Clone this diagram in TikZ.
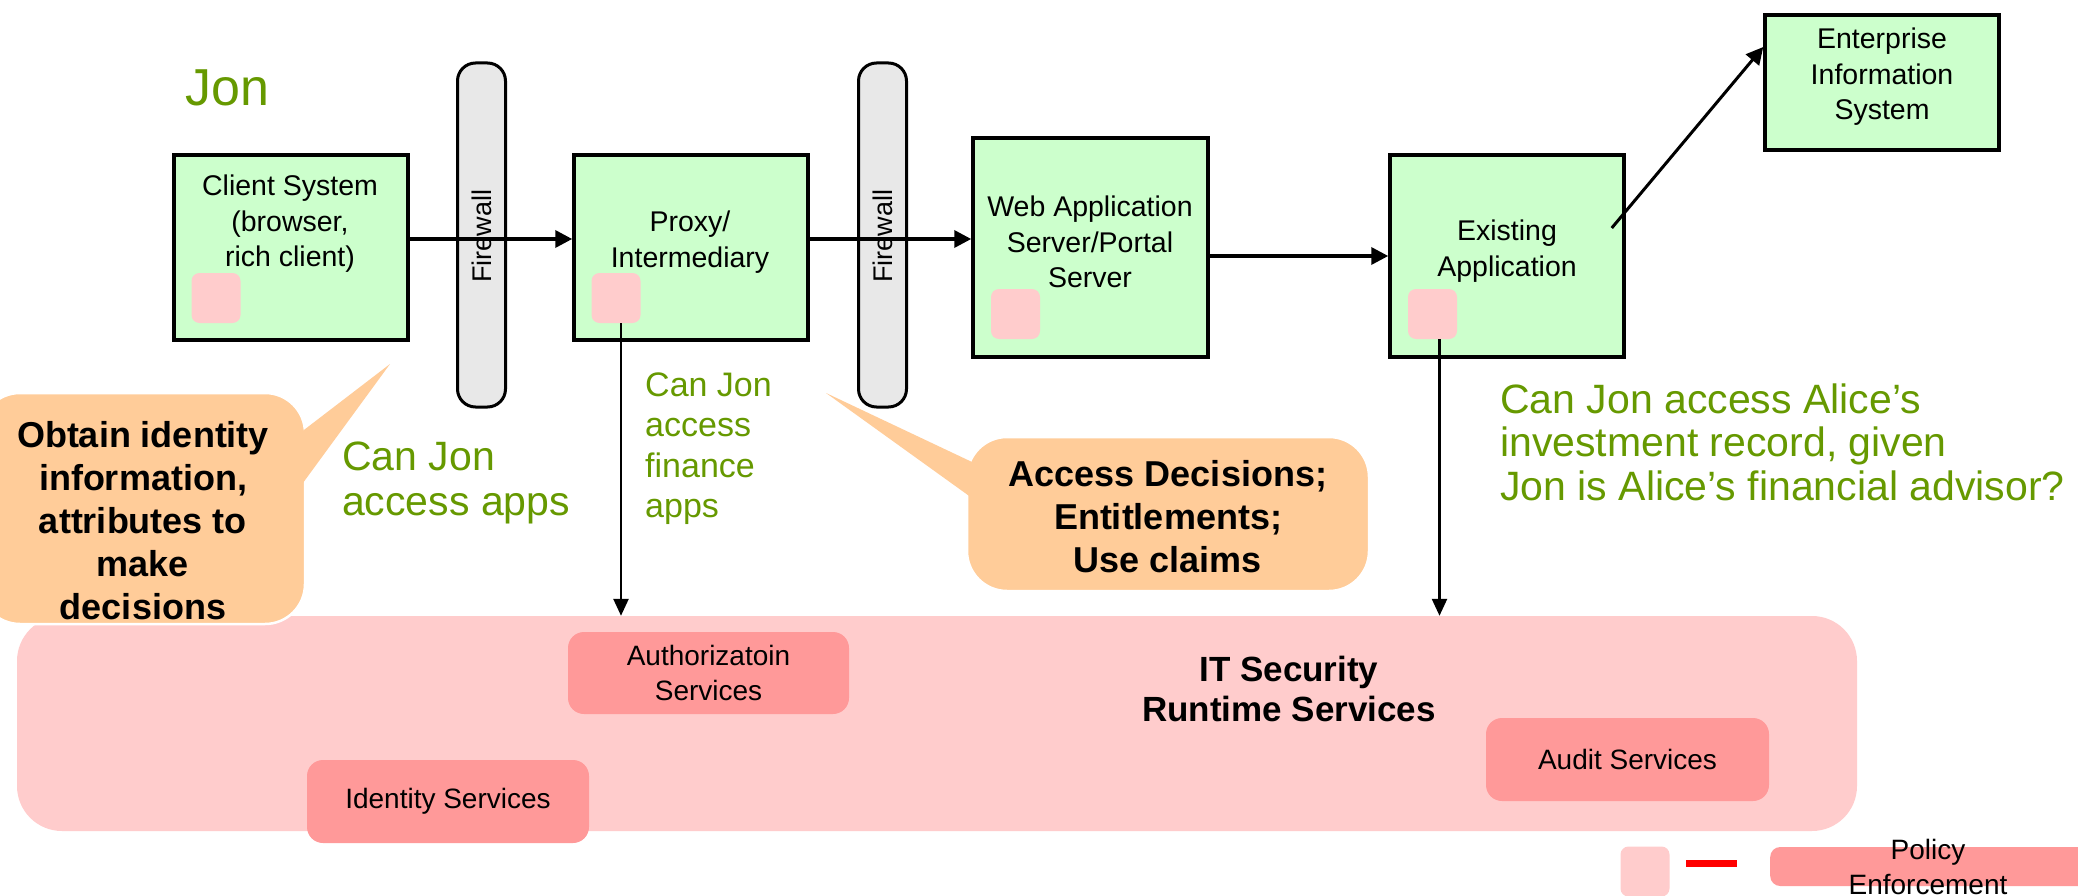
\documentclass[tikz,border=0pt]{standalone}
\usepackage{fontspec}
\setmainfont{Liberation Sans}
\usetikzlibrary{arrows.meta,calc}

\definecolor{boxgreen}{HTML}{CCFFCC}
\definecolor{pepink}{HTML}{FFCCCC}
\definecolor{svcpink}{HTML}{FF9999}
\definecolor{calloutfill}{HTML}{FFCC99}
\definecolor{qgreen}{HTML}{669900}
\definecolor{fwgray}{HTML}{E8E8E8}

\begin{document}
\begin{tikzpicture}[x=1pt,y=-1pt,
  box/.style={draw, line width=3.5pt, fill=boxgreen, inner sep=0pt},
  pe/.style={fill=pepink, rounded corners=8pt, minimum width=49, minimum height=50, inner sep=0pt},
  svc/.style={fill=svcpink, rounded corners=16pt, inner sep=0pt, align=center,
    font=\fontsize{28}{35}\selectfont},
  fw/.style={draw, line width=3pt, fill=fwgray, rounded corners=18pt,
    minimum width=48, minimum height=344, inner sep=0pt},
  fwtext/.style={rotate=90, font=\fontsize{27}{30}\selectfont, inner sep=0pt},
  lbl/.style={align=center, inner sep=0pt, font=\fontsize{28.5}{35.5}\selectfont},
  flow/.style={-{Triangle[length=17pt,width=17pt]}, line width=3.5pt},
  down/.style={-{Triangle[length=17pt,width=15pt]}, line width=2.5pt},
  question/.style={text=qgreen, align=left, inner sep=0pt, anchor=base west},
  callout/.style={fill=calloutfill, draw=white, line width=2.5pt, rounded corners=40pt, inner sep=0pt},
  ctext/.style={align=center, inner sep=0pt, font=\fontsize{36}{43}\selectfont\bfseries},
]
\useasboundingbox (0,0) rectangle (2078,896);
\fill[white] (0,0) rectangle (2078,896);
\clip (0,0) rectangle (2078,896);

% runtime services region
\node[fill=pepink, rounded corners=45pt, minimum width=1840, minimum height=215, inner sep=0pt]
  (rts) at (937,723.5) {};
\node[ctext, font=\fontsize{35}{40}\selectfont\bfseries] (rts-t) at (1289,689)
  {IT Security\\Runtime Services};
\node[svc, minimum width=281, minimum height=82] (auth) at (708.5,673) {Authorizatoin\\Services};
\node[svc, minimum width=282, minimum height=83] (ident) at (448,801.5) {Identity Services};
\node[svc, minimum width=283, minimum height=83] (audit) at (1627.5,759.5) {Audit Services};

% callouts
\node[callout, minimum width=325, minimum height=231] (co1) at (142.5,508.5) {};
\coordinate (co1-tip) at (390,364);
\coordinate (co1-b1) at (300,433);
\coordinate (co1-b2) at (300,487);
\fill[calloutfill] (co1-tip) -- (co1-b1) -- (co1-b2) -- cycle;
\node[ctext] (co1-t) at (143,521)
  {Obtain identity\\information,\\attributes to\\make\\decisions};

\node[callout, minimum width=402, minimum height=154] (co2) at (1168,514) {};
\coordinate (co2-tip) at (826,393);
\coordinate (co2-b1) at (972,462);
\coordinate (co2-b2) at (972,498);
\fill[calloutfill] (co2-tip) -- (co2-b1) -- (co2-b2) -- cycle;
\node[ctext] (co2-t) at (1168,516.5) {Access Decisions;\\Entitlements;\\Use claims};

% firewalls
\node[fw] (fw1) at (481.5,235) {};
\node[fwtext] (fw1-t) at (481.5,236) {Firewall};
\node[fw] (fw2) at (882.5,235) {};
\node[fwtext] (fw2-t) at (882.5,236) {Firewall};

% systems
\node[box, minimum width=234, minimum height=185] (client) at (291,247.5) {};
\node[lbl] (client-t) at (290,224) {Client System\\(browser,\\rich client)};
\node[pe] (pe1) at (216,298) {};

\node[box, minimum width=234, minimum height=185] (proxy) at (691,247.5) {};
\node[lbl] (proxy-t) at (690,242) {Proxy/\\Intermediary};
\node[pe] (pe2) at (616,298) {};

\node[box, minimum width=235, minimum height=219] (web) at (1090.5,247.5) {};
\node[lbl] (web-t) at (1090,242) {Web Application\\Server/Portal\\Server};
\node[pe] (pe3) at (1015.5,314) {};

\node[box, minimum width=234, minimum height=202] (exist) at (1507,256) {};
\node[lbl] (exist-t) at (1507,251) {Existing\\Application};
\node[pe] (pe4) at (1432.5,314) {};

\node[box, minimum width=234, minimum height=135] (eis) at (1882,82.5) {};
\node[lbl] (eis-t) at (1882,77) {Enterprise\\Information\\System};

% connectors
\draw[flow] ([yshift=8.5]client.east) -- ([yshift=8.5]proxy.west);
\draw[flow] ([yshift=8.5]proxy.east) -- ([yshift=8.5]web.west);
\draw[flow] (web.east |- exist.west) -- (exist.west);
\draw[flow, line width=3pt] ($(exist.east)+(-14,-28)$) -- ($(eis.west)+(0,-35.5)$);
\draw[down] ($(pe2.south)+(5,0)$) -- ($(pe2.south |- rts.north)+(5,0)$);
\draw[down] ($(pe4.south)+(7,0)$) -- ($(pe4.south |- rts.north)+(7,0)$);

% questions (base anchor sits on the last line)
\node[question, font=\fontsize{52}{60}\selectfont] (jon) at (185,106) {Jon};
\node[question, font=\fontsize{41}{45}\selectfont] (q1) at (342,515) {Can Jon\\access apps};
\node[question, font=\fontsize{34}{40.5}\selectfont] (q2) at (645,517.5) {Can Jon\\access\\finance\\apps};
\node[question, font=\fontsize{41}{43.5}\selectfont] (q3) at (1500,500)
  {Can Jon access Alice’s\\investment record, given\\Jon is Alice’s financial advisor?};

% legend
\node[pe] (lg-pe) at (1645,871.5) {};
\node[fill=red, minimum width=51, minimum height=7, inner sep=0pt] (lg-dash) at (1711.5,863.5) {};
\node[svc, rounded corners=10pt, minimum width=340, minimum height=39, anchor=west] (lg-svc) at (1770,866.5) {};
\node[lbl, font=\fontsize{28}{35}\selectfont] (lg-t) at (1928,867) {Policy\\Enforcement};
\end{tikzpicture}
\end{document}
